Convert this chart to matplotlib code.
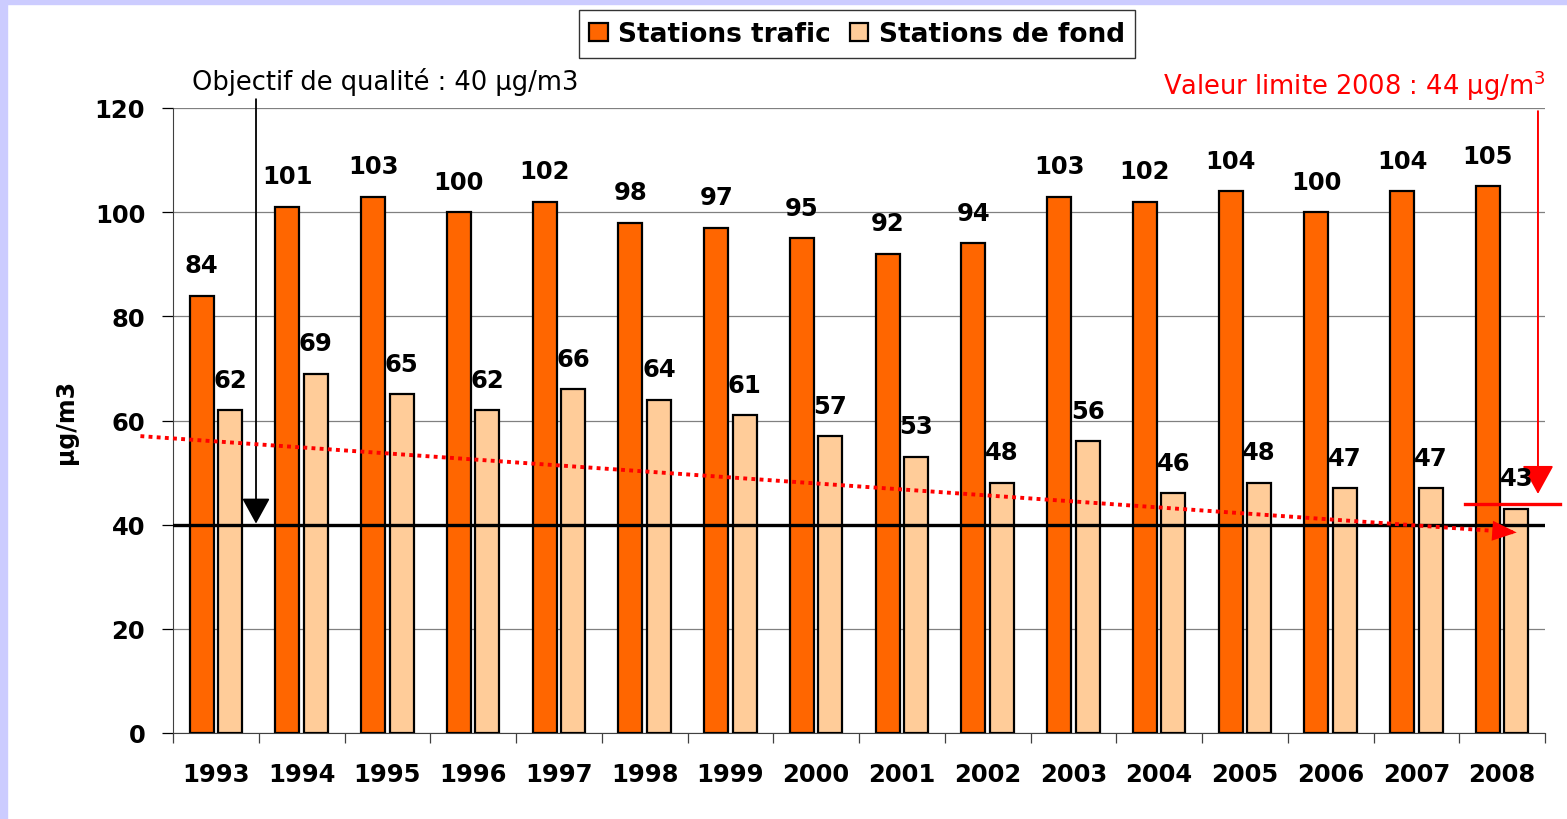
"""
NO2 annual means: traffic stations vs background stations, 1993-2008,
with the quality objective (40) and the 2008 limit value (44).
"""
import numpy as np
import matplotlib
matplotlib.use("Agg")
import matplotlib.pyplot as plt
from matplotlib.patches import Rectangle

years = ["1993", "1994", "1995", "1996", "1997", "1998", "1999", "2000",
         "2001", "2002", "2003", "2004", "2005", "2006", "2007", "2008"]
trafic = [84, 101, 103, 100, 102, 98, 97, 95, 92, 94, 103, 102, 104, 100, 104, 105]
fond = [62, 69, 65, 62, 66, 64, 61, 57, 53, 48, 56, 46, 48, 47, 47, 43]

objectif = 40
valeur_limite = 44
# dotted trend of the background stations
trend_x = [-0.88, 15.17]
trend_y = [57.0, 38.5]

ORANGE = "#FF6600"
PEACH = "#FFCC99"
RED = "#FF0000"

plt.rcParams["font.family"] = ["DejaVu Sans"]

fig = plt.figure(figsize=(15.67, 8.2), dpi=100)
fig.patch.set_facecolor("white")
# lavender frame strips (left and top of the screenshot)
fig.patches.append(Rectangle((0, 0), 7 / 1567, 1, transform=fig.transFigure,
                             color="#CCCCFF", zorder=-10))
fig.patches.append(Rectangle((0, 1 - 5 / 820), 1, 5 / 820, transform=fig.transFigure,
                             color="#CCCCFF", zorder=-10))

ax = fig.add_axes([173 / 1567, 1 - 734 / 820, (1545 - 173) / 1567, (734 - 109) / 820])

x = np.arange(len(years))
w = 0.28
off = 0.166
b1 = ax.bar(x - off, trafic, w, color=ORANGE, edgecolor="black", lw=1.6,
            label="Stations trafic", zorder=3)
b2 = ax.bar(x + off, fond, w, color=PEACH, edgecolor="black", lw=1.6,
            label="Stations de fond", zorder=3)

for xi, v in zip(x, trafic):
    ax.annotate(str(v), (xi - off, v), xytext=(0, 22), textcoords="offset points",
                ha="center", va="center", fontsize=17.5, fontweight="bold", zorder=6)
for xi, v in zip(x, fond):
    ax.annotate(str(v), (xi + off, v), xytext=(0, 22), textcoords="offset points",
                ha="center", va="center", fontsize=17.5, fontweight="bold", zorder=6)

ax.set_xlim(-0.5, len(years) - 0.5)
ax.set_ylim(0, 120)
ax.set_yticks(range(0, 121, 20))
ax.yaxis.grid(True, color="#808080", lw=0.9, zorder=0)
ax.set_axisbelow(True)

ax.set_xticks(x)
ax.set_xticklabels(years, fontsize=17.5, fontweight="bold")
ax.set_xticks(np.arange(-0.5, len(years), 1), minor=True)
ax.tick_params(axis="x", which="major", length=0, pad=21)
ax.tick_params(axis="x", which="minor", length=7, width=0.9, color="#404040")
ax.tick_params(axis="y", length=8, width=0.9, pad=12, labelsize=17.5)
for lab in ax.get_yticklabels():
    lab.set_fontweight("bold")
for s in ["top", "right"]:
    ax.spines[s].set_visible(False)
ax.spines["left"].set_color("#404040")
ax.spines["bottom"].set_color("#404040")
ax.set_ylabel("µg/m3", fontsize=17, fontweight="bold", labelpad=12)

# quality objective
ax.axhline(objectif, color="black", lw=2.4, zorder=4)
ax.annotate("", xy=(0.468, objectif + 0.2), xytext=(0.468, 121.7),
            arrowprops=dict(arrowstyle="-|>,head_width=0.55,head_length=1.0",
                            mutation_scale=16, color="black", lw=1.3,
                            shrinkA=0, shrinkB=0),
            annotation_clip=False, zorder=5)
ax.text(-0.28, 125.2, "Objectif de qualité : 40 µg/m3", fontsize=18.5,
        ha="left", va="center", clip_on=False)

# 2008 limit value
ax.plot([14.57, 15.67], [valeur_limite, valeur_limite], color=RED, lw=2.4,
        clip_on=False, zorder=5)
ax.annotate("", xy=(15.418, 45.9), xytext=(15.418, 119.4),
            arrowprops=dict(arrowstyle="-|>,head_width=0.55,head_length=1.0",
                            mutation_scale=18, color=RED, lw=1.4,
                            shrinkA=0, shrinkB=0),
            annotation_clip=False, zorder=5)
ax.text(15.5, 124.5, "Valeur limite 2008 : 44 µg/m$^3$", color=RED, fontsize=18.5,
        ha="right", va="center", clip_on=False)

# trend of background stations
ax.plot(trend_x, trend_y, color=RED, lw=2.8, linestyle=(0, (1, 1.1)),
        clip_on=False, zorder=5)
ax.annotate("", xy=(trend_x[1], trend_y[1]),
            xytext=(trend_x[1] - 0.25, trend_y[1] + 0.25 * (trend_y[0] - trend_y[1]) / (trend_x[1] - trend_x[0])),
            arrowprops=dict(arrowstyle="-|>,head_width=0.45,head_length=1.1",
                            mutation_scale=16, color=RED, lw=0,
                            shrinkA=0, shrinkB=0),
            annotation_clip=False, zorder=5)

leg = fig.legend(handles=[b1, b2], loc="center", bbox_to_anchor=(857 / 1567, 1 - 35 / 820),
                 ncol=2, frameon=True, fancybox=False, edgecolor="black",
                 handlelength=0.7, handleheight=0.7, handletextpad=0.4,
                 columnspacing=0.7, borderpad=0.4,
                 prop=dict(size=19, weight="bold"))
leg.get_frame().set_linewidth(1.0)

fig.savefig("out.png", dpi=100)
